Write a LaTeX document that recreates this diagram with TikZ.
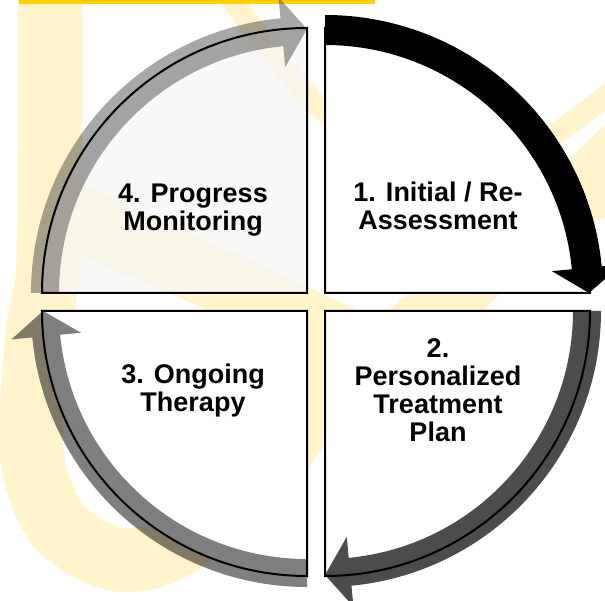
\documentclass[tikz,border=0pt]{standalone}
\usepackage{fontspec}
\setmainfont{Liberation Sans}
\definecolor{wm}{RGB}{255,244,204}
\definecolor{barc}{RGB}{255,209,0}
\definecolor{qfour}{RGB}{246,246,246}
\begin{document}
\begin{tikzpicture}[x=1pt,y=1pt,
  sector/.style={draw=black, line width=2pt, line join=miter},
  qtext/.style={font=\fontsize{27}{28}\selectfont\bfseries, align=center, inner sep=0pt, anchor=base},
  arr/.style={fill=black, draw=none}]
\useasboundingbox (0,0) rectangle (605,600);
\fill[white] (0,0) rectangle (605,600);
% faint watermark (pixel coordinates, y downwards)
\begin{scope}[shift={(0,600)}, yscale=-1]
  \clip (0,0) rectangle (605,600);
  % left stroke with hook at the bottom
  \draw[wm, line width=64pt, line join=round] plot[smooth] coordinates {(50,-60) (50,150) (48,270) (37,340) (31,440) (40,490) (62,530) (110,558) (154,556) (200,530) (260,478) (310,410) (350,350)};
  % diagonal band from the left stroke to the centre
  \fill[wm] (60,183) -- (83,183) -- (420,339) -- (420,401) -- (80,255) -- (60,255) -- cycle;
  % swoosh from the top
  \draw[wm, line width=22pt] plot[smooth] coordinates {(225,-10) (270,50) (323,110) (400,160) (470,170) (550,137) (620,85)};
  % band on the right
  \fill[wm] plot[smooth] coordinates {(612,118) (565,163) (490,235) (400,300) (370,335)} -- plot[smooth] coordinates {(470,335) (495,298) (560,245) (612,213)} -- cycle;
  \fill[barc] (19,0) rectangle (375,4);
\end{scope}
% sectors
\begin{scope}[shift={(325,307)}]
  \path[sector, fill=white] (0,0) -- (90:265) arc[start angle=90,end angle=0,radius=265] -- cycle;
\end{scope}
\begin{scope}[shift={(325,289)}]
  \path[sector, fill=white] (0,0) -- (0:265) arc[start angle=0,end angle=-90,radius=265] -- cycle;
\end{scope}
\begin{scope}[shift={(307,289)}]
  \path[sector, fill=white] (0,0) -- (270:265) arc[start angle=270,end angle=180,radius=265] -- cycle;
\end{scope}
\begin{scope}[shift={(307,307)}]
  \path[sector, fill=qfour, fill opacity=0.7] (0,0) -- (180:265) arc[start angle=180,end angle=90,radius=265] -- cycle;
\end{scope}
% arrows
\begin{scope}[shift={(325,307)}]
  \fill[arr] (90:278) arc[start angle=90,end angle=5.5,radius=278] -- (5.5:298) -- (0:264) -- (5.5:228) -- (5.5:248) arc[start angle=5.5,end angle=90,radius=248] -- cycle;
\end{scope}
\begin{scope}[shift={(325,289)}]
  \fill[arr, fill opacity=0.7] (0:276) arc[start angle=0,end angle=-84.5,radius=276] -- (-84.5:297) -- (-90:264) -- (-84.5:227) -- (-84.5:248) arc[start angle=-84.5,end angle=0,radius=248] -- cycle;
\end{scope}
\begin{scope}[shift={(307,289)}]
  \fill[arr, fill opacity=0.5] (270:276) arc[start angle=270,end angle=185.5,radius=276] -- (185.5:297) -- (180:264) -- (185.5:227) -- (185.5:248) arc[start angle=185.5,end angle=270,radius=248] -- cycle;
\end{scope}
\begin{scope}[shift={(307,307)}]
  \fill[arr, fill opacity=0.34] (180:276) arc[start angle=180,end angle=95.5,radius=276] -- (95.5:297) -- (90:264) -- (95.5:227) -- (95.5:248) arc[start angle=95.5,end angle=180,radius=248] -- cycle;
\end{scope}
% labels (anchor = baseline of the last line)
\node[qtext] (t1) at (438,370) {1. Initial / Re-\\Assessment};
\node[qtext] (t2) at (438,158) {2.\\Personalized\\Treatment\\Plan};
\node[qtext] (t3) at (193,188) {3. Ongoing\\Therapy};
\node[qtext] (t4) at (193,369) {4. Progress\\Monitoring};
\end{tikzpicture}
\end{document}
